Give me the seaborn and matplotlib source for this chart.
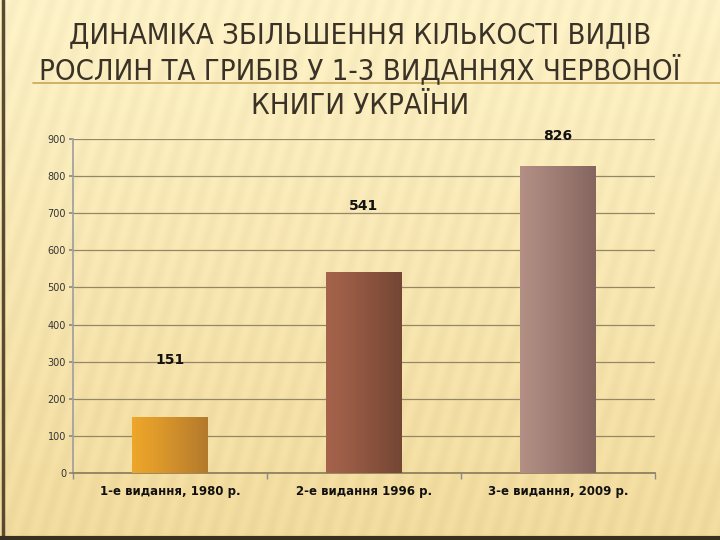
import numpy as np
import pandas as pd
import matplotlib
matplotlib.use("Agg")
import matplotlib.pyplot as plt
import matplotlib.colors as mcolors
import seaborn as sns

# data
editions = ["1-е видання, 1980 р.", "2-е видання 1996 р.", "3-е видання, 2009 р."]
species = [151, 541, 826]
title_lines = ["ДИНАМІКА ЗБІЛЬШЕННЯ КІЛЬКОСТІ ВИДІВ",
               "РОСЛИН ТА ГРИБІВ У 1-3 ВИДАННЯХ ЧЕРВОНОЇ",
               "КНИГИ УКРАЇНИ"]
y_ticks = list(range(0, 1000, 100))

# bar gradient colours (left -> right) and label offsets above bar top (pt)
bar_left = ["#eea62a", "#a6634c", "#b38f85"]
bar_right = ["#b47a2c", "#744634", "#85665f"]
label_offset = [41, 48, 22]

sns.set_theme(style="white")
plt.rcParams['font.family'] = ['DejaVu Sans']

fig = plt.figure(figsize=(7.2, 5.4), dpi=100)

# background: cream gradient with faint diagonal stripes
bg = fig.add_axes([0, 0, 1, 1], zorder=-10)
h, w = 540, 720
yy, xx = np.mgrid[0:h, 0:w]
top = np.array(mcolors.to_rgb("#fcf1c6"))
bot = np.array(mcolors.to_rgb("#f1da9c"))
t = (yy / h)[..., None]
img = top * (1 - t) + bot * t
stripes = 0.012 * np.sin((xx + 0.3 * yy) / 3.0)[..., None]
img = np.clip(img + stripes, 0, 1)
bg.imshow(img, aspect="auto", extent=[0, 1, 0, 1])
bg.plot([0.004, 0.004], [0, 1], color="#5a4a30", lw=2.5)
bg.plot([0, 1], [0.003, 0.003], color="#3a3020", lw=3)
bg.plot([0.046, 1], [1 - 83 / 540, 1 - 83 / 540], color="#c9a657", lw=1.2)
bg.set_xlim(0, 1)
bg.set_ylim(0, 1)
bg.axis("off")

# title
title_y = [35, 70, 106]
for line, ypx in zip(title_lines, title_y):
    fig.text(0.5, 1 - ypx / 540, line, ha="center", va="center",
             fontsize=21, color="#3a3226", fontstretch="condensed",
             family=["DejaVu Sans"])

ax = fig.add_axes([73 / 720, 67 / 540, 582 / 720, 334 / 540])
ax.patch.set_alpha(0)

df = pd.DataFrame({"edition": editions, "count": species})
sns.barplot(data=df, x="edition", y="count", hue="edition",
            palette=bar_left, width=0.39, ax=ax, legend=False)

# gradient fill clipped to each bar
for patch, c0, c1 in zip(ax.patches, bar_left, bar_right):
    x0, y0 = patch.get_x(), patch.get_y()
    bw, bh = patch.get_width(), patch.get_height()
    c0 = np.array(mcolors.to_rgb(c0))
    c1 = np.array(mcolors.to_rgb(c1))
    s = np.linspace(0, 1, 64)
    prof = np.where(s < 0.3, s / 0.3 * 0.25, 0.25 + (s - 0.3) / 0.7 * 0.75)
    grad = (c0[None, :] * (1 - prof[:, None]) + c1[None, :] * prof[:, None])[None, :, :]
    im = ax.imshow(grad, extent=[x0, x0 + bw, y0, y0 + bh], aspect="auto",
                   zorder=3, interpolation="bilinear")
    im.set_clip_path(patch)
    patch.set_edgecolor("none")

for i, (v, off) in enumerate(zip(species, label_offset)):
    ax.annotate(str(v), (i, v), xytext=(0, off), textcoords="offset points",
                ha="center", va="center", fontsize=10, fontweight="bold",
                color="#111111", zorder=5)

ax.set_ylim(0, 900)
ax.set_xlim(-0.5, 2.5)
ax.set_yticks(y_ticks)
ax.set_yticklabels([str(v) for v in y_ticks], fontsize=7, color="#333333")
ax.tick_params(axis="y", length=3, color="#8a8a8a", pad=2, left=True)
ax.tick_params(axis="x", length=0, pad=9)
for lab in ax.get_xticklabels():
    lab.set_fontsize(8.5)
    lab.set_fontweight("bold")
    lab.set_color("#111111")
ax.set_xticks([-0.5, 0.5, 1.5, 2.5], minor=True)
ax.tick_params(axis="x", which="minor", length=4, color="#8a8a8a", bottom=True)
ax.yaxis.grid(True, color="#958665", lw=0.9)
ax.set_axisbelow(True)
ax.set_xlabel("")
ax.set_ylabel("")
for side in ["top", "right"]:
    ax.spines[side].set_visible(False)
ax.spines["left"].set_color("#a0a0a0")
ax.spines["bottom"].set_color("#8c7d5c")

fig.savefig("out.png", dpi=100)
